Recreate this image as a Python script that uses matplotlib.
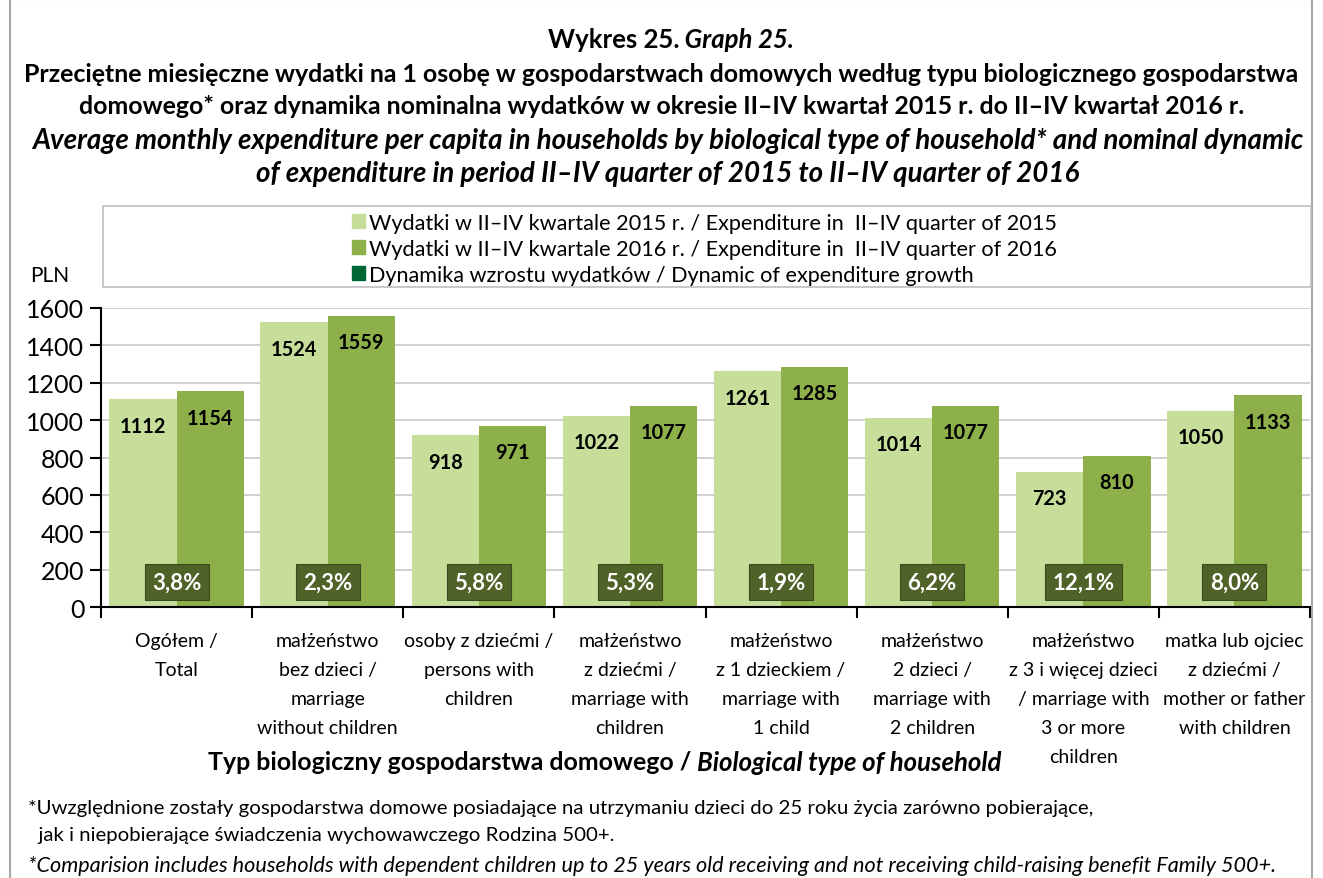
import numpy as np
import matplotlib.pyplot as plt
from matplotlib.patches import Rectangle

plt.rcParams['font.family'] = ['Lato', 'DejaVu Sans']

categories = [
    'Ogółem /\nTotal',
    'małżeństwo\nbez dzieci /\nmarriage\nwithout children',
    'osoby z dziećmi /\npersons with\nchildren',
    'małżeństwo\nz dziećmi /\nmarriage with\nchildren',
    'małżeństwo\nz 1 dzieckiem /\nmarriage with\n1 child',
    'małżeństwo\n2 dzieci /\nmarriage with\n2 children',
    'małżeństwo\nz 3 i więcej dzieci\n/ marriage with\n3 or more\nchildren',
    'matka lub ojciec\nz dziećmi /\nmother or father\nwith children',
]
exp_2015 = [1112, 1524, 918, 1022, 1261, 1014, 723, 1050]
exp_2016 = [1154, 1559, 971, 1077, 1285, 1077, 810, 1133]
growth = [3.8, 2.3, 5.8, 5.3, 1.9, 6.2, 12.1, 8.0]
yticks = [0, 200, 400, 600, 800, 1000, 1200, 1400, 1600]

c_light = '#C6DE9A'
c_mid = '#8DB04A'
c_dark = '#006633'
c_box = '#4F6228'

W, H = 1323, 879
fig = plt.figure(figsize=(W / 100, H / 100), dpi=100)

def fx(px):
    return px / W

def fy(py):
    return 1 - py / H

# outer frame
fig.patches.append(Rectangle((fx(10), fy(900)), fx(1302), 900 / H,
                             transform=fig.transFigure, fill=False,
                             edgecolor='#A6A6A6', linewidth=1.5))

ax = fig.add_axes([fx(101), fy(608), fx(1310) - fx(101), fy(309) - fy(608)])
x = np.arange(len(categories))
bw = 0.445
ax.bar(x - bw / 2, exp_2015, bw, color=c_light, zorder=2)
ax.bar(x + bw / 2, exp_2016, bw, color=c_mid, zorder=2)

for i in range(len(categories)):
    ax.annotate(str(exp_2015[i]), (x[i] - bw / 2, exp_2015[i]), xytext=(0, -19),
                textcoords='offset points', ha='center', va='center',
                fontsize=14.3, fontweight='bold', zorder=4)
    ax.annotate(str(exp_2016[i]), (x[i] + bw / 2, exp_2016[i]), xytext=(0, -19),
                textcoords='offset points', ha='center', va='center',
                fontsize=14.3, fontweight='bold', zorder=4)
    ax.text(x[i], 134, f'{growth[i]:.1f}%'.replace('.', ','), ha='center', va='center',
            color='white', fontsize=16, fontweight='bold', zorder=5,
            bbox=dict(boxstyle='square,pad=0.33', facecolor=c_box, edgecolor='#3A4A1E',
                      linewidth=0.8))

ax.set_xlim(-0.5, len(categories) - 0.5)
ax.set_ylim(0, 1600)
ax.set_yticks(yticks)
ax.set_yticklabels([str(v) for v in yticks], fontsize=18)
ax.yaxis.grid(True, color='#C8C8C8', linewidth=1.2, zorder=0)
ax.set_axisbelow(True)

ax.set_xticks(np.arange(len(categories) + 1) - 0.5)
ax.set_xticklabels([])
ax.set_xticks(x, minor=True)
ax.set_xticklabels(categories, minor=True, fontsize=14, linespacing=1.85)
ax.tick_params(axis='x', which='minor', length=0, pad=18)
ax.tick_params(axis='x', which='major', length=8, width=1.5, direction='out')
ax.tick_params(axis='y', length=8, width=1.5, direction='out', pad=4)
for s in ['top', 'right']:
    ax.spines[s].set_visible(False)
for s in ['left', 'bottom']:
    ax.spines[s].set_linewidth(1.5)

fig.text(fx(50), fy(276), 'PLN', ha='center', va='center', fontsize=15)

# legend
fig.patches.append(Rectangle((fx(103), fy(288)), fx(1311) - fx(103), fy(207) - fy(288),
                             transform=fig.transFigure, fill=False,
                             edgecolor='#BFBFBF', linewidth=1.2))
handles = [Rectangle((0, 0), 1, 1, color=c) for c in (c_light, c_mid, c_dark)]
labels = ['Wydatki w II–IV kwartale 2015 r. / Expenditure in  II–IV quarter of 2015',
          'Wydatki w II–IV kwartale 2016 r. / Expenditure in  II–IV quarter of 2016',
          'Dynamika wzrostu wydatków / Dynamic of expenditure growth']
fig.legend(handles, labels, loc='upper left', bbox_to_anchor=(fx(341), fy(203)),
           frameon=False, fontsize=15.6, handlelength=0.6, handleheight=0.6,
           handletextpad=0.2, labelspacing=0.27, borderpad=0)

# title
fig.text(fx(679), fy(40), 'Wykres 25.', ha='right', va='center', fontsize=18.5, fontweight='bold')
fig.text(fx(679), fy(40), ' Graph 25.', ha='left', va='center', fontsize=18.5,
         fontweight='bold', style='italic')
fig.text(0.5, fy(74), 'Przeciętne miesięczne wydatki na 1 osobę w gospodarstwach domowych według typu biologicznego gospodarstwa',
         ha='center', va='center', fontsize=17.9, fontweight='bold')
fig.text(0.5, fy(107), 'domowego* oraz dynamika nominalna wydatków w okresie II–IV kwartał 2015 r. do II–IV kwartał 2016 r.',
         ha='center', va='center', fontsize=17.9, fontweight='bold')
fig.text(fx(668), fy(141), 'Average monthly expenditure per capita in households by biological type of household* and nominal dynamic',
         ha='center', va='center', fontsize=20, fontweight='bold', style='italic')
fig.text(fx(668), fy(174), 'of expenditure in period II–IV quarter of 2015 to II–IV quarter of 2016',
         ha='center', va='center', fontsize=20, fontweight='bold', style='italic')

# x axis title
fig.text(fx(697), fy(763), 'Typ biologiczny gospodarstwa domowego / ', ha='right', va='center',
         fontsize=17.9, fontweight='bold')
fig.text(fx(697), fy(763), 'Biological type of household', ha='left', va='center',
         fontsize=18.5, fontweight='bold', style='italic')

# footnotes
fig.text(fx(28), fy(809), '*Uwzględnione zostały gospodarstwa domowe posiadające na utrzymaniu dzieci do 25 roku życia zarówno pobierające,',
         ha='left', va='center', fontsize=14.7)
fig.text(fx(28), fy(836), '  jak i niepobierające świadczenia wychowawczego Rodzina 500+.',
         ha='left', va='center', fontsize=14.7)
fig.text(fx(28), fy(866), '*Comparision includes households with dependent children up to 25 years old receiving and not receiving child-raising benefit Family 500+.',
         ha='left', va='center', fontsize=15.6, style='italic')

fig.savefig('out.png', dpi=100)
